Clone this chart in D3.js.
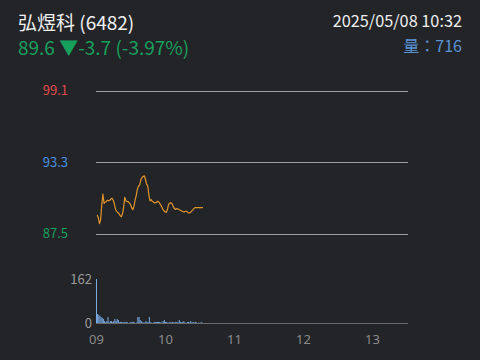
<!DOCTYPE html>
<html><head><meta charset="utf-8">
<script src="https://cdn.jsdelivr.net/npm/d3@7"></script>
<style>
html,body{margin:0;padding:0;background:#232427;}
svg{display:block;font-family:"Noto Sans CJK TC","Noto Sans",sans-serif;}
</style></head>
<body>
<svg id="c" width="480" height="360"></svg>
<script>
const stockName = "弘煜科 (6482)";
const quoteText = "89.6 ▼-3.7 (-3.97%)";
const dateText = "2025/05/08 10:32";
const volText = "量：716";
const priceTicks = [99.1, 93.3, 87.5];
const volTicks = [162, 0];
const hourLabels = ["09", "10", "11", "12", "13"];
// minutes after 09:00
const minutes = d3.range(1, 94);
const prices = [
 89.0, 88.8, 88.3, 88.6, 89.8, 90.7, 89.95, 90.05, 90.1, 90.2,
 90.15, 90.2, 90.3, 90.36, 90.2, 89.9, 89.45, 89.3, 89.2, 89.13,
 88.95, 88.86, 89.1, 89.6, 90.44, 90.15, 90.08, 90.08, 89.98, 89.85,
 89.6, 89.42, 89.7, 90.2, 90.6, 91.1, 91.35, 91.45, 91.85, 92.05,
 92.12, 92.18, 91.9, 91.5, 91.35, 90.6, 90.15, 90.25, 90.1, 90.05,
 89.97, 90.0, 90.08, 90.1, 90.0, 89.85, 89.7, 89.5, 89.35, 89.26,
 89.2, 89.4, 89.82, 89.97, 89.98, 89.95, 89.72, 89.55, 89.45, 89.53,
 89.5, 89.45, 89.4, 89.37, 89.3, 89.26, 89.26, 89.3, 89.3, 89.2,
 89.18, 89.2, 89.3, 89.4, 89.5, 89.6, 89.6, 89.6, 89.6, 89.6,
 89.6, 89.6, 89.6
];
const volumes = [
 162, 33, 30, 26, 22, 19, 15, 7, 3, 7,
 22, 2, 7, 7, 3, 7, 15, 7, 15, 11,
 2, 4, 4, 3, 4, 3, 4, 2, 0, 2,
 4, 4, 4, 2, 0, 2, 22, 22, 11, 7,
 2, 2, 2, 7, 4, 2, 22, 2, 2, 0,
 4, 4, 4, 4, 4, 4, 2, 2, 7, 11,
 4, 3, 2, 2, 4, 2, 4, 2, 2, 4,
 4, 2, 11, 4, 2, 4, 7, 2, 0, 4,
 4, 2, 7, 2, 4, 2, 4, 2, 0, 2,
 0, 4, 1
];

const svg = d3.select("#c");
const x = d3.scaleLinear().domain([0, 270]).range([96, 406.5]);
const y = d3.scaleLinear().domain([87.5, 99.1]).range([233.5, 90.5]);
const yv = d3.scaleLinear().domain([0, 162]).range([323, 279]);

// header
svg.append("text").attr("x", 18).attr("y", 30).attr("fill", "#f0f0f0")
  .attr("font-size", 19).text(stockName);
svg.append("text").attr("x", 18).attr("y", 55).attr("fill", "#17a05d")
  .attr("font-size", 19).text(quoteText);
svg.append("text").attr("x", 462).attr("y", 27).attr("fill", "#f0f0f0")
  .attr("text-anchor", "end").attr("font-size", 16.3).text(dateText);
svg.append("text").attr("x", 462).attr("y", 52).attr("fill", "#5b93d6")
  .attr("text-anchor", "end").attr("font-size", 16).text(volText);

// price grid
const priceColors = ["#e04b4b", "#4a8fe0", "#17a05d"];
priceTicks.forEach((p, i) => {
  svg.append("line").attr("x1", 96).attr("x2", 408)
    .attr("y1", Math.round(y(p)) + 0.5).attr("y2", Math.round(y(p)) + 0.5)
    .attr("stroke", "#a0a0a0").attr("stroke-width", 1);
  svg.append("text").attr("x", 68).attr("y", y(p)).attr("dy", "0.35em")
    .attr("text-anchor", "end").attr("fill", priceColors[i])
    .attr("font-size", 13).text(p.toFixed(1));
});

// price line
const line = d3.line().x((d, i) => x(minutes[i])).y(d => y(d));
svg.append("path").datum(prices).attr("d", line)
  .attr("fill", "none").attr("stroke", "#e0952a").attr("stroke-width", 1.2)
  .attr("stroke-linejoin", "round");

// volume bars
const bw = x(1) - x(0);
svg.selectAll("rect.v").data(volumes).enter().append("rect")
  .attr("x", (d, i) => x(minutes[i] - 1))
  .attr("width", Math.max(0.9, bw - 0.2))
  .attr("y", d => yv(d))
  .attr("height", d => yv(0) - yv(d))
  .attr("fill", "#7db2ef");

// volume baseline
svg.append("line").attr("x1", 96).attr("x2", 408).attr("y1", 323.5).attr("y2", 323.5)
  .attr("stroke", "#6a6a6a").attr("stroke-width", 1);

volTicks.forEach(v => {
  svg.append("text").attr("x", 92).attr("y", yv(v)).attr("dy", "0.35em")
    .attr("text-anchor", "end").attr("fill", "#9a9a9a")
    .attr("font-size", 13).text(v);
});

// hour labels
const xAxis = d3.axisBottom(x).tickValues([0, 60, 120, 180, 240])
  .tickFormat((d, i) => hourLabels[i]).tickSize(0);
const ax = svg.append("g").attr("transform", "translate(0,332)").call(xAxis);
ax.select(".domain").remove();
ax.selectAll("text").attr("fill", "#8a8a8a").attr("font-size", 13)
  .attr("font-family", "'Noto Sans', sans-serif");
</script>
</body></html>
